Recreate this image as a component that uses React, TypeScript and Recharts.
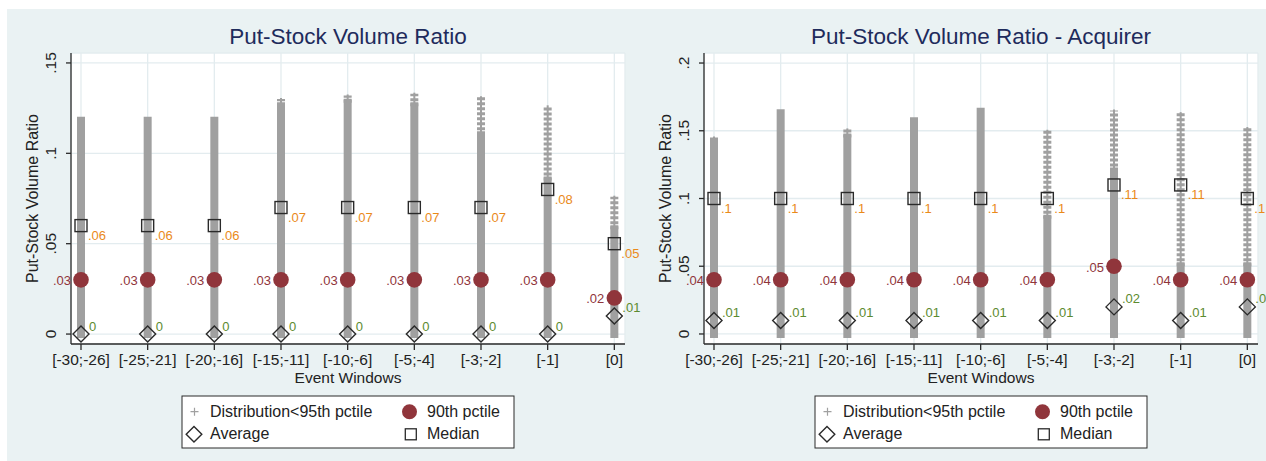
// Put-stock volume ratio by event window: distribution columns with median / 90th pctile / average markers
import { ComposedChart, Scatter, XAxis, YAxis, CartesianGrid, ReferenceLine } from "recharts";

const windows = ["[-30;-26]", "[-25;-21]", "[-20;-16]", "[-15;-11]", "[-10;-6]", "[-5;-4]", "[-3;-2]", "[-1]", "[0]"];

// all firms
const allMedian = [0.06, 0.06, 0.06, 0.07, 0.07, 0.07, 0.07, 0.08, 0.05];
const allP90 = [0.03, 0.03, 0.03, 0.03, 0.03, 0.03, 0.03, 0.03, 0.02];
const allAverage = [0, 0, 0, 0, 0, 0, 0, 0, 0.01];
const allDistTop = [0.118, 0.118, 0.118, 0.13, 0.132, 0.133, 0.131, 0.126, 0.076];
const allDistDense = [0.118, 0.118, 0.118, 0.126, 0.128, 0.126, 0.11, 0.085, 0.058];
const allTicks = [0, 0.05, 0.1, 0.15];

// acquirers
const acqMedian = [0.1, 0.1, 0.1, 0.1, 0.1, 0.1, 0.11, 0.11, 0.1];
const acqP90 = [0.04, 0.04, 0.04, 0.04, 0.04, 0.04, 0.05, 0.04, 0.04];
const acqAverage = [0.01, 0.01, 0.01, 0.01, 0.01, 0.01, 0.02, 0.01, 0.02];
const acqDistTop = [0.145, 0.163, 0.151, 0.157, 0.164, 0.15, 0.165, 0.163, 0.152];
const acqDistDense = [0.142, 0.163, 0.145, 0.157, 0.164, 0.085, 0.12, 0.05, 0.05];
const acqTicks = [0, 0.05, 0.1, 0.15, 0.2];

const FONT = '"Liberation Sans", Arial, sans-serif';
const BG = "#EAF2F3";
const GRID = "#E3ECEF";
const AXIS = "#2a2a2a";
const DIST = "#A0A0A0";
const MAROON = "#90353B";
const ORANGE = "#EA8A1A";
const GREEN = "#5C8B2F";
const NAVY = "#1E2B5C";

const fmt = (v: number) => (v === 0 ? "0" : String(v).replace(/^0/, ""));
const pts = (vals: number[]) => vals.map((y, i) => ({ x: i + 1, y }));

function MedianShape(props: any) {
  const { cx, cy, payload } = props;
  return (
    <g>
      <rect x={cx - 6} y={cy - 6} width={12} height={12} fill="none" stroke={AXIS} strokeWidth={1.4} />
      <text x={cx + 7} y={cy + 10} fontSize={13} fill={ORANGE} dominantBaseline="central">
        {fmt(payload.y)}
      </text>
    </g>
  );
}

function P90Shape(props: any) {
  const { cx, cy, payload } = props;
  return (
    <g>
      <circle cx={cx} cy={cy} r={7.8} fill={MAROON} />
      <text x={cx - 10} y={cy + 1} fontSize={13} fill={MAROON} textAnchor="end" dominantBaseline="central">
        {fmt(payload.y)}
      </text>
    </g>
  );
}

function AverageShape(props: any) {
  const { cx, cy, payload } = props;
  return (
    <g>
      <polygon
        points={`${cx},${cy - 8} ${cx + 8},${cy} ${cx},${cy + 8} ${cx - 8},${cy}`}
        fill="none"
        stroke={AXIS}
        strokeWidth={1.4}
      />
      <text x={cx + 8} y={cy - 8} fontSize={13} fill={GREEN} dominantBaseline="central">
        {fmt(payload.y)}
      </text>
    </g>
  );
}

function XTick(props: any) {
  const { x, y, payload } = props;
  return (
    <text x={x} y={y + 13} textAnchor="middle" fontSize={15.5} fill="#222">
      {windows[payload.value - 1]}
    </text>
  );
}

function YTick(props: any) {
  const { x, y, payload } = props;
  return (
    <text x={x - 8} y={y} transform={`rotate(-90 ${x - 8} ${y})`} textAnchor="middle" fontSize={15.5} fill="#222">
      {fmt(payload.value)}
    </text>
  );
}

function Legend() {
  return (
    <g fontSize={16} fill="#222">
      <rect x={182} y={396} width={332} height={52} fill="#fff" stroke={AXIS} strokeWidth={1} />
      <path d="M190.5 411.7h8M194.5 407.7v8" stroke={DIST} strokeWidth={1.2} />
      <text x={210} y={416.7}>Distribution&lt;95th pctile</text>
      <circle cx={409.5} cy={411.7} r={7.5} fill={MAROON} />
      <text x={427} y={416.7}>90th pctile</text>
      <polygon points="194,426.5 201.8,434.3 194,442.1 186.2,434.3" fill="none" stroke={AXIS} strokeWidth={1.4} />
      <text x={210} y={439.3}>Average</text>
      <rect x={405.3} y={428.8} width={11} height={11} fill="none" stroke={AXIS} strokeWidth={1.3} />
      <text x={427} y={439.3}>Median</text>
    </g>
  );
}

interface PanelProps {
  left: number;
  width: number;
  title: string;
  median: number[];
  p90: number[];
  average: number[];
  distTop: number[];
  distDense: number[];
  yDomain: [number, number];
  yTicks: number[];
}

function Panel({ left, width, title, median, p90, average, distTop, distDense, yDomain, yTicks }: PanelProps) {
  return (
    <div style={{ position: "absolute", left, top: 0, width, height: 461 }}>
      <ComposedChart width={width} height={461} margin={{ top: 53, right: width - 625, bottom: 77, left: 11 }}>
        <CartesianGrid fill="#fff" stroke={GRID} strokeWidth={1.3} />
        <XAxis
          type="number"
          dataKey="x"
          domain={[0.85, 9.16]}
          ticks={[1, 2, 3, 4, 5, 6, 7, 8, 9]}
          interval={0}
          height={40}
          tickSize={6}
          axisLine={{ stroke: AXIS, strokeWidth: 1.3 }}
          tickLine={{ stroke: AXIS, strokeWidth: 1.3 }}
          tick={(p: any) => <XTick {...p} />}
        />
        <YAxis
          type="number"
          dataKey="y"
          domain={yDomain}
          ticks={yTicks}
          interval={0}
          width={60}
          tickSize={5}
          axisLine={{ stroke: AXIS, strokeWidth: 1.3 }}
          tickLine={{ stroke: AXIS, strokeWidth: 1.3 }}
          tick={(p: any) => <YTick {...p} />}
        />
        {distDense.map((d, i) => (
          <ReferenceLine
            key={`dense-${i}`}
            segment={[{ x: i + 1, y: 0 }, { x: i + 1, y: d }]}
            stroke={DIST}
            strokeWidth={8}
            strokeLinecap="square"
            ifOverflow="visible"
          />
        ))}
        {distTop.map((t, i) =>
          t > distDense[i] ? (
            <ReferenceLine
              key={`sparse-${i}`}
              segment={[{ x: i + 1, y: distDense[i] }, { x: i + 1, y: t }]}
              stroke={DIST}
              strokeWidth={8}
              strokeDasharray="3 2"
              ifOverflow="visible"
            />
          ) : null
        )}
        {distTop.map((t, i) =>
          t > distDense[i] ? (
            <ReferenceLine
              key={`stem-${i}`}
              segment={[{ x: i + 1, y: distDense[i] }, { x: i + 1, y: t }]}
              stroke={DIST}
              strokeWidth={2}
              strokeLinecap="square"
              ifOverflow="visible"
            />
          ) : null
        )}
        <Scatter data={pts(median)} shape={<MedianShape />} isAnimationActive={false} />
        <Scatter data={pts(p90)} shape={<P90Shape />} isAnimationActive={false} />
        <Scatter data={pts(average)} shape={<AverageShape />} isAnimationActive={false} />
      </ComposedChart>
      <svg
        width={width}
        height={461}
        style={{ position: "absolute", left: 0, top: 0, pointerEvents: "none", fontFamily: FONT }}
      >
        <text x={348} y={44} textAnchor="middle" fontSize={22.5} fill={NAVY}>
          {title}
        </text>
        <text x={38} y={198.5} transform="rotate(-90 38 198.5)" textAnchor="middle" fontSize={16} fill="#222">
          Put-Stock Volume Ratio
        </text>
        <text x={348} y={383} textAnchor="middle" fontSize={15.5} fill="#222">
          Event Windows
        </text>
        <Legend />
      </svg>
    </div>
  );
}

export default function App() {
  return (
    <div style={{ position: "absolute", left: 0, top: 0, width: 1266, height: 461, overflow: "hidden", fontFamily: FONT, background: "#fff" }}>
      <div style={{ position: "absolute", left: 7, top: 9, width: 1259, height: 452, background: BG }} />
      <Panel
        left={0}
        width={660}
        title="Put-Stock Volume Ratio"
        median={allMedian}
        p90={allP90}
        average={allAverage}
        distTop={allDistTop}
        distDense={allDistDense}
        yDomain={[-0.0055, 0.1555]}
        yTicks={allTicks}
      />
      <Panel
        left={633}
        width={633}
        title="Put-Stock Volume Ratio - Acquirer"
        median={acqMedian}
        p90={acqP90}
        average={acqAverage}
        distTop={acqDistTop}
        distDense={acqDistDense}
        yDomain={[-0.0074, 0.2074]}
        yTicks={acqTicks}
      />
    </div>
  );
}
